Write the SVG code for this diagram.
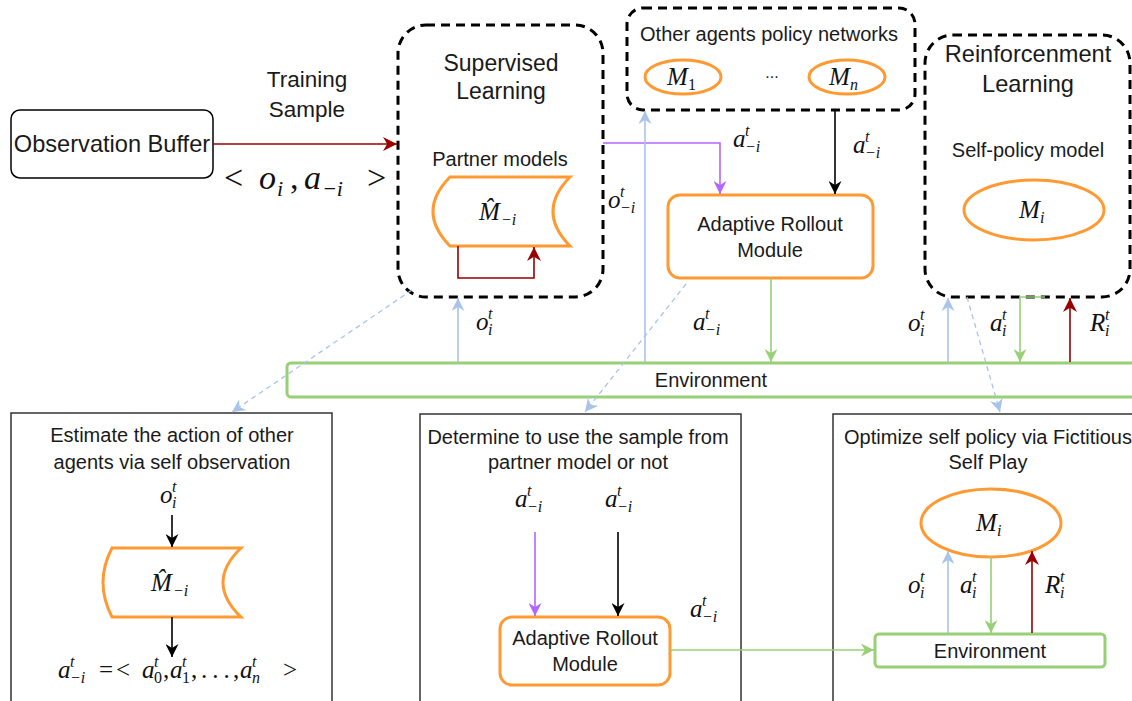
<svg xmlns="http://www.w3.org/2000/svg" width="1132" height="701" viewBox="0 0 1132 701">
<defs>
<style>
.t{font-family:"Liberation Sans",Arial,sans-serif;fill:#1a1a1a;text-anchor:middle;font-size:20px}
.t22{font-size:22.5px}
.t23{font-size:23px}
.t24{font-size:23.6px}
.t16{font-size:16px}
.m{font-family:"Liberation Serif","DejaVu Serif","Times New Roman",serif;font-style:italic;fill:#111}
.u{font-family:"Liberation Serif","DejaVu Serif","Times New Roman",serif;fill:#111}
.b{font-size:25px}
.s{font-size:16px}
.dash{fill:none;stroke:#000;stroke-width:3;stroke-dasharray:9 6}
.orange{fill:#fff;stroke:#FF9A33;stroke-width:3}
.box{fill:#fff;stroke:#333;stroke-width:1.5}
.env{fill:#fff;stroke:#97D077;stroke-width:3}
.c{fill:none;stroke-width:1.6}
.red{stroke:#990000}
.pur{stroke:#B266FF}
.blk{stroke:#000}
.blu{stroke:#A9C4EB}
.grn{stroke:#97D077}
.dsh{stroke-dasharray:5 4;stroke-width:1.3}
</style>
<marker id="aRed" viewBox="0 0 10 10" refX="10" refY="5" markerWidth="14" markerHeight="14" markerUnits="userSpaceOnUse" orient="auto"><path d="M0,0 L10,5 L0,10 L3,5 Z" fill="#990000"/></marker>
<marker id="aPur" viewBox="0 0 10 10" refX="10" refY="5" markerWidth="13" markerHeight="13" markerUnits="userSpaceOnUse" orient="auto"><path d="M0,0 L10,5 L0,10 L3,5 Z" fill="#B266FF"/></marker>
<marker id="aBlk" viewBox="0 0 10 10" refX="10" refY="5" markerWidth="13" markerHeight="13" markerUnits="userSpaceOnUse" orient="auto"><path d="M0,0 L10,5 L0,10 L3,5 Z" fill="#000"/></marker>
<marker id="aBlu" viewBox="0 0 10 10" refX="10" refY="5" markerWidth="13" markerHeight="13" markerUnits="userSpaceOnUse" orient="auto"><path d="M0,0 L10,5 L0,10 L3,5 Z" fill="#A9C4EB"/></marker>
<marker id="aGrn" viewBox="0 0 10 10" refX="10" refY="5" markerWidth="13" markerHeight="13" markerUnits="userSpaceOnUse" orient="auto"><path d="M0,0 L10,5 L0,10 L3,5 Z" fill="#97D077"/></marker>
</defs>
<rect width="1132" height="701" fill="#fff"/>

<!-- bottom panels -->
<g id="panel-estimate">
<rect class="box" x="11" y="413" width="321" height="300"/>
<text class="t" x="172" y="442">Estimate the action of other</text>
<text class="t" x="172" y="469">agents via self observation</text>
<g transform="translate(160,503)"><text class="m b">o</text><text class="m s" x="12" y="-11">t</text><text class="m s" x="12" y="5">i</text></g>
<path class="orange" d="M112,548 H241 Q205,582.5 241,617 H112 Q94,582.5 112,548 Z"/>
<text class="m b" x="151" y="591">M̂</text><text class="m s" x="173" y="596">−i</text>
<g transform="translate(58,678)">
<text class="m b">a</text><text class="m s" x="12" y="-11">t</text><text class="m s" x="12" y="5">−i</text>
<text class="u b" x="41">=</text><text class="u b" x="58">&lt;</text>
<text class="m b" x="84">a</text><text class="m s" x="96" y="-11">t</text><text class="u s" x="96" y="5">0</text>
<text class="u b" x="105">,</text>
<text class="m b" x="112">a</text><text class="m s" x="124" y="-11">t</text><text class="u s" x="124" y="5">1</text>
<text class="u b" x="133">,</text>
<text class="u b" x="143" letter-spacing="5">...</text>
<text class="u b" x="175">,</text>
<text class="m b" x="182">a</text><text class="m s" x="194" y="-11">t</text><text class="m s" x="194" y="5">n</text>
<text class="u b" x="225">&gt;</text>
</g>
</g>

<g id="panel-determine">
<rect class="box" x="420" y="414" width="321" height="300"/>
<text class="t" x="578" y="444">Determine to use the sample from</text>
<text class="t" x="578" y="469">partner model or not</text>
<g transform="translate(515,507)"><text class="m b">a</text><text class="m s" x="12" y="-11">t</text><text class="m s" x="12" y="5">−i</text></g>
<g transform="translate(605,507)"><text class="m b">a</text><text class="m s" x="12" y="-11">t</text><text class="m s" x="12" y="5">−i</text></g>
<g transform="translate(690,617)"><text class="m b">a</text><text class="m s" x="12" y="-11">t</text><text class="m s" x="12" y="5">−i</text></g>
<rect class="orange" x="500" y="617" width="170" height="68" rx="12"/>
<text class="t" x="585" y="645">Adaptive Rollout</text>
<text class="t" x="585" y="671">Module</text>
</g>

<g id="panel-optimize">
<rect class="box" x="833" y="414" width="320" height="300"/>
<text class="t" x="988" y="444">Optimize self policy via Fictitious</text>
<text class="t" x="988" y="469">Self Play</text>
<ellipse class="orange" cx="991" cy="523" rx="70" ry="34"/>
<text class="m b" x="976" y="531">M</text><text class="m s" x="997" y="536">i</text>
<rect class="env" x="875" y="634" width="230" height="33" rx="4"/>
<text class="t" x="990" y="658">Environment</text>
<g transform="translate(908,593)"><text class="m b">o</text><text class="m s" x="12" y="-11">t</text><text class="m s" x="12" y="5">i</text></g>
<g transform="translate(960,593)"><text class="m b">a</text><text class="m s" x="12" y="-11">t</text><text class="m s" x="12" y="5">i</text></g>
<g transform="translate(1045,593)"><text class="m b">R</text><text class="m s" x="15" y="-11">t</text><text class="m s" x="15" y="5">i</text></g>
</g>

<!-- top nodes -->
<g id="obs-buffer">
<rect x="11" y="110" width="202" height="68" rx="9" fill="#fff" stroke="#000" stroke-width="1.5"/>
<text class="t t24" x="112" y="152">Observation Buffer</text>
</g>

<g id="training-label">
<text class="t t22" x="307" y="87">Training</text>
<text class="t t22" x="307" y="117">Sample</text>
<g transform="translate(224,189)">
<text class="u" font-size="34">&lt;</text>
<text class="m" font-size="34" x="35">o</text><text class="m" font-size="22" x="53" y="7">i</text>
<text class="u" font-size="34" x="66">,</text>
<text class="m" font-size="34" x="80">a</text><text class="m" font-size="22" x="98" y="7">−i</text>
<text class="u" font-size="34" x="143">&gt;</text>
</g>
</g>

<g id="supervised">
<rect class="dash" x="398" y="25" width="205" height="272" rx="28"/>
<text class="t t23" x="501" y="71">Supervised</text>
<text class="t t23" x="501" y="99">Learning</text>
<text class="t" x="500" y="166">Partner models</text>
<path class="orange" d="M450,177 H570 Q536,211.5 570,246 H450 Q416,211.5 450,177 Z"/>
<text class="m b" x="479" y="220">M̂</text><text class="m s" x="501" y="225">−i</text>
</g>

<g id="other-agents">
<rect class="dash" x="627" y="8" width="288" height="102" rx="16"/>
<text class="t" x="769" y="41">Other agents policy networks</text>
<ellipse class="orange" cx="683" cy="77" rx="38" ry="17"/>
<text class="m b" x="667" y="85">M</text><text class="u s" x="688" y="90">1</text>
<text class="t t16" x="772" y="78">...</text>
<ellipse class="orange" cx="847" cy="77" rx="38" ry="17"/>
<text class="m b" x="829" y="85">M</text><text class="m s" x="850" y="90">n</text>
</g>

<g id="arm-top">
<rect class="orange" x="668" y="195" width="205" height="83" rx="12"/>
<text class="t" x="770" y="231">Adaptive Rollout</text>
<text class="t" x="770" y="257">Module</text>
</g>

<g id="reinforcement">
<rect class="dash" x="925" y="35" width="205" height="262" rx="28"/>
<text class="t t24" x="1028" y="62">Reinforcenment</text>
<text class="t t24" x="1028" y="92">Learning</text>
<text class="t" x="1028" y="157">Self-policy model</text>
<ellipse class="orange" cx="1034" cy="210" rx="70" ry="30"/>
<text class="m b" x="1019" y="218">M</text><text class="m s" x="1040" y="223">i</text>
</g>

<g id="environment">
<rect class="env" x="287" y="363" width="870" height="34" rx="4"/>
<text class="t" x="711" y="387">Environment</text>
</g>

<!-- connectors -->
<g id="connectors">
<path class="c red" stroke-width="2" d="M213,144 H397" marker-end="url(#aRed)"/>
<path class="c red" d="M458,246 V278 H534 V247" marker-end="url(#aRed)"/>
<path class="c pur" d="M603,143 H720 V194" marker-end="url(#aPur)"/>
<path class="c blk" d="M835,110 V194" marker-end="url(#aBlk)"/>
<path class="c blu" d="M645,362 V111" marker-end="url(#aBlu)"/>
<path class="c grn" d="M771,278 V362" marker-end="url(#aGrn)"/>
<path class="c blu" d="M458,362 V298" marker-end="url(#aBlu)"/>
<path class="c blu" d="M948,362 V298" marker-end="url(#aBlu)"/>
<path class="c grn" d="M1045,297 H1020 V362" marker-end="url(#aGrn)"/>
<path class="c red" d="M1070,362 V298" marker-end="url(#aRed)"/>
<path class="c blu dsh" d="M412,290 L232,412" marker-end="url(#aBlu)"/>
<path class="c blu dsh" d="M686,284 L585,412" marker-end="url(#aBlu)"/>
<path class="c blu dsh" d="M967,297 L1000,412" marker-end="url(#aBlu)"/>
<path class="c blk" d="M172,515 V547" marker-end="url(#aBlk)"/>
<path class="c blk" d="M172,617 V657" marker-end="url(#aBlk)"/>
<path class="c pur" d="M535,532 V616" marker-end="url(#aPur)"/>
<path class="c blk" d="M618,532 V616" marker-end="url(#aBlk)"/>
<path class="c grn" d="M670,650 H874" marker-end="url(#aGrn)"/>
<path class="c blu" d="M948,633 V551" marker-end="url(#aBlu)"/>
<path class="c grn" d="M991,557 V633" marker-end="url(#aGrn)"/>
<path class="c red" d="M1032,633 V551" marker-end="url(#aRed)"/>
</g>

<!-- connector labels -->
<g id="labels">
<g transform="translate(733,147)"><text class="m b">a</text><text class="m s" x="12" y="-11">t</text><text class="m s" x="12" y="5">−i</text></g>
<g transform="translate(853,153)"><text class="m b">a</text><text class="m s" x="12" y="-11">t</text><text class="m s" x="12" y="5">−i</text></g>
<g transform="translate(608,208)"><text class="m b">o</text><text class="m s" x="12" y="-11">t</text><text class="m s" x="12" y="5">−i</text></g>
<g transform="translate(693,330)"><text class="m b">a</text><text class="m s" x="12" y="-11">t</text><text class="m s" x="12" y="5">−i</text></g>
<g transform="translate(476,330)"><text class="m b">o</text><text class="m s" x="12" y="-11">t</text><text class="m s" x="12" y="5">i</text></g>
<g transform="translate(908,331)"><text class="m b">o</text><text class="m s" x="12" y="-11">t</text><text class="m s" x="12" y="5">i</text></g>
<g transform="translate(990,331)"><text class="m b">a</text><text class="m s" x="12" y="-11">t</text><text class="m s" x="12" y="5">i</text></g>
<g transform="translate(1090,331)"><text class="m b">R</text><text class="m s" x="15" y="-11">t</text><text class="m s" x="15" y="5">i</text></g>
</g>
</svg>
